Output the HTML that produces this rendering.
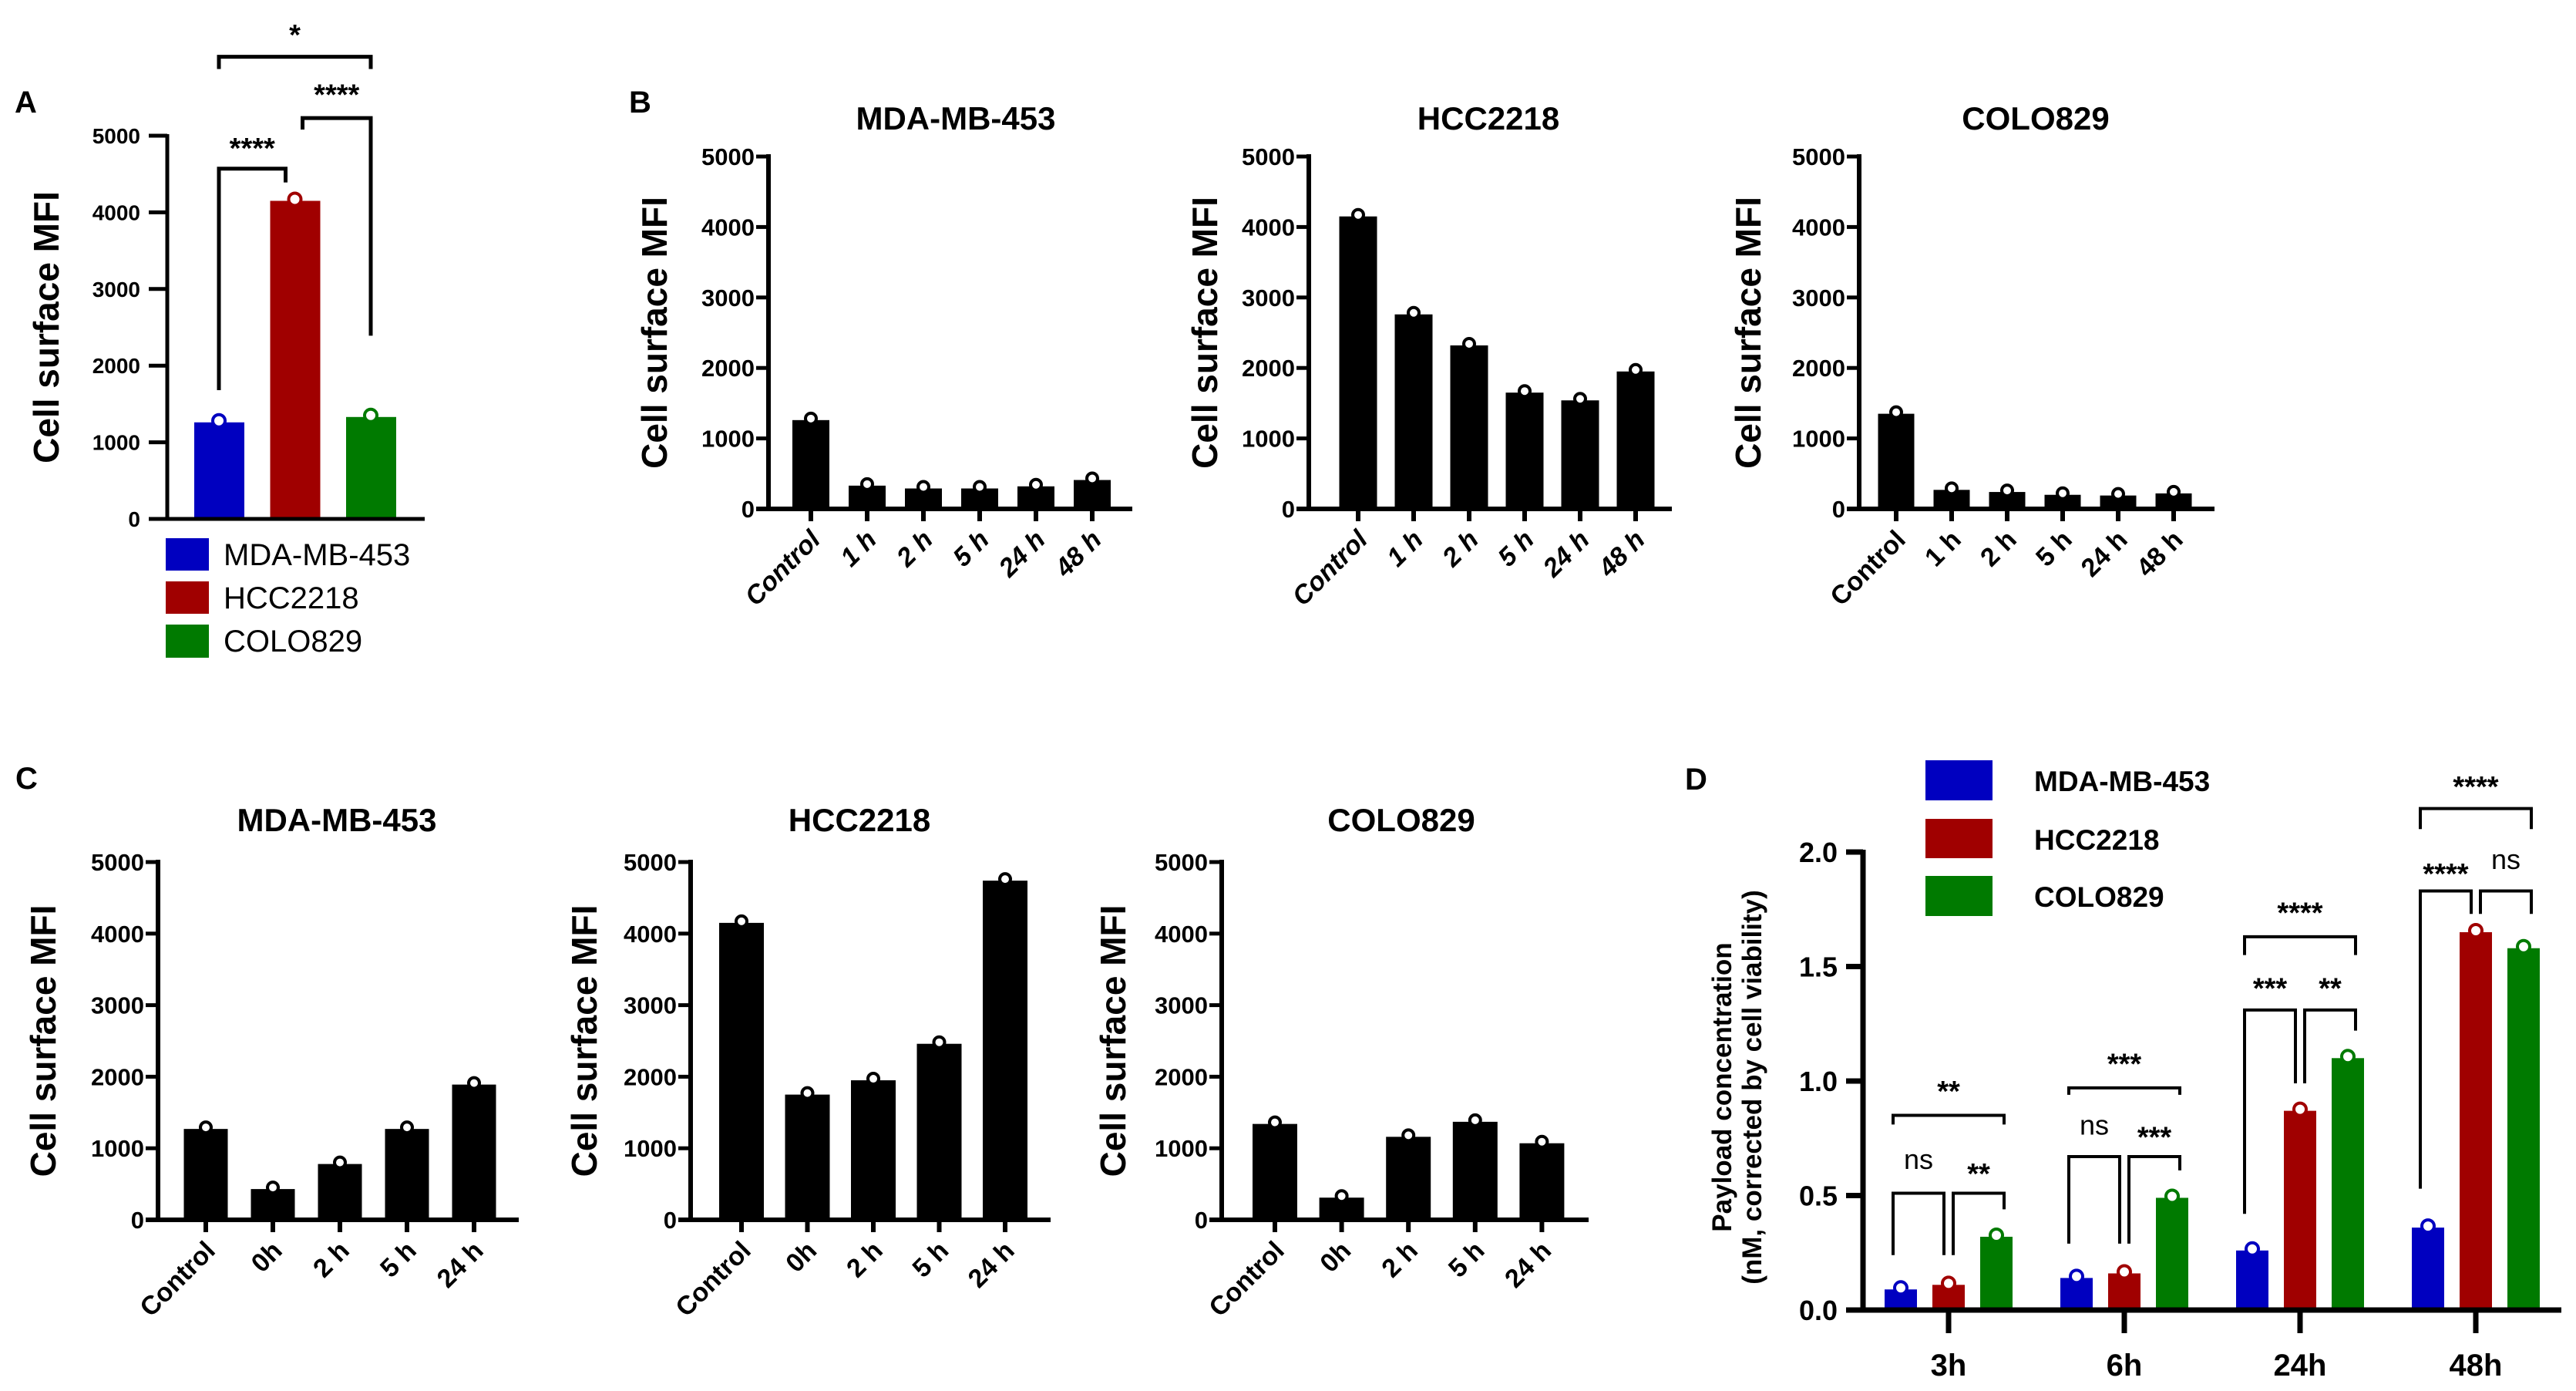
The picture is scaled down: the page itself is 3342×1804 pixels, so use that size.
<!DOCTYPE html>
<html><head><meta charset="utf-8"><style>
html,body{margin:0;padding:0;background:#fff;}
svg{display:block;font-family:"Liberation Sans",sans-serif;}
.nar{font-family:"Liberation Sans Narrow","Liberation Sans",sans-serif;font-weight:bold;}
.b{font-weight:bold;}
</style></head><body>
<svg id="fig" width="3342" height="1804" viewBox="0 0 3342 1804" xmlns="http://www.w3.org/2000/svg">
<text x="19" y="146" font-size="40" class="b">A</text>
<text x="816" y="146" font-size="40" class="b">B</text>
<text x="20" y="1023" font-size="40" class="b">C</text>
<text x="2186" y="1024" font-size="40" class="b">D</text>
<g>
<rect x="215" y="698" width="56" height="42" fill="#0000c0"/>
<text x="290" y="733" font-size="40">MDA-MB-453</text>
<rect x="215" y="754" width="56" height="42" fill="#a00000"/>
<text x="290" y="789" font-size="40">HCC2218</text>
<rect x="215" y="810" width="56" height="43" fill="#007a00"/>
<text x="290" y="845" font-size="40">COLO829</text>
</g>
<g>
<rect x="2498" y="986" width="87" height="52" fill="#0000c0"/>
<text x="2639" y="1026" font-size="37" class="nar">MDA-MB-453</text>
<rect x="2498" y="1062" width="87" height="51" fill="#a00000"/>
<text x="2639" y="1102" font-size="37" class="nar">HCC2218</text>
<rect x="2498" y="1136" width="87" height="52" fill="#007a00"/>
<text x="2639" y="1176" font-size="37" class="nar">COLO829</text>
</g>
</svg>
<script>
// ---- Panel A data ----
const aCategories = ["MDA-MB-453", "HCC2218", "COLO829"];
const aValues = [1260, 4150, 1330];
const aTicks = [0, 1000, 2000, 3000, 4000, 5000];
// brackets: [barA, barB, top, dropA, dropB, label, labelY]
const aBrackets = [[0, 1, 4570, 1680, 4390, "****", 4890], [1, 2, 5230, 5080, 2390, "****", 5590], [0, 2, 6030, 5870, 5870, "*", 6370]];
// ---- Panel B data ----
const bCategories = ["Control", "1 h", "2 h", "5 h", "24 h", "48 h"];
const bTitles = ["MDA-MB-453", "HCC2218", "COLO829"];
const bMDA = [1260, 330, 290, 290, 320, 410];
const bHCC = [4150, 2760, 2320, 1650, 1540, 1950];
const bCOLO = [1350, 270, 240, 200, 190, 220];
const mfiTicks = [0, 1000, 2000, 3000, 4000, 5000];
// ---- Panel C data ----
const cCategories = ["Control", "0h", "2 h", "5 h", "24 h"];
const cMDA = [1270, 430, 780, 1270, 1890];
const cHCC = [4150, 1750, 1950, 2460, 4740];
const cCOLO = [1340, 310, 1160, 1370, 1070];
// ---- Panel D data ----
const dGroups = ["3h", "6h", "24h", "48h"];
const dMDA = [0.09, 0.14, 0.26, 0.36];
const dHCC = [0.11, 0.16, 0.87, 1.65];
const dCOLO = [0.32, 0.49, 1.10, 1.58];
const dTicks = ["0.0", "0.5", "1.0", "1.5", "2.0"];
// brackets: [group, barA, barB, top, dropA, dropB, label, labelY]
const dBrackets = [
  [0, 0, 2, 0.85, 0.81, 0.81, "**", 0.98],
  [0, 0, 1, 0.51, 0.24, 0.24, "ns", 0.65],
  [0, 1, 2, 0.51, 0.24, 0.44, "**", 0.62],
  [1, 0, 2, 0.97, 0.94, 0.94, "***", 1.10],
  [1, 0, 1, 0.67, 0.29, 0.29, "ns", 0.80],
  [1, 1, 2, 0.67, 0.29, 0.61, "***", 0.78],
  [2, 0, 2, 1.63, 1.55, 1.55, "****", 1.76],
  [2, 0, 1, 1.31, 0.42, 0.99, "***", 1.43],
  [2, 1, 2, 1.31, 0.99, 1.22, "**", 1.43],
  [3, 0, 2, 2.19, 2.10, 2.10, "****", 2.31],
  [3, 0, 1, 1.83, 0.53, 1.73, "****", 1.93],
  [3, 1, 2, 1.83, 1.73, 1.73, "ns", 1.96]
];

const svg = document.getElementById('fig');
const NS = 'http://www.w3.org/2000/svg';
function mk(tag, attrs, parent) {
  const e = document.createElementNS(NS, tag);
  for (const k in attrs) e.setAttribute(k, attrs[k]);
  (parent || svg).appendChild(e);
  return e;
}
const COLORS = ["#0000c0", "#a00000", "#007a00"];

function mfiPanel(cfg, cats, vals, title, id) {
  const g = mk('g', {});
  
  
  const y = v => cfg.y0 - (v / 5000) * (cfg.y0 - cfg.y5);
  const x = i => cfg.first + i * cfg.step;
  const t = mk('text', {x: cfg.titleX, y: cfg.titleY, 'font-size': 42, 'text-anchor': 'middle', class: 'nar'}, g);
  t.textContent = title;
  
  
  const yt = mk('text', {x: 0, y: 0, 'font-size': 46, 'text-anchor': 'middle', class: 'b', transform: `translate(${cfg.ytX + 16},${(cfg.y0 + cfg.y5) / 2}) rotate(-90)`}, g);
  yt.textContent = 'Cell surface MFI';
  
  
  vals.forEach((v, i) => {
    const r = mk('rect', {x: x(i) - cfg.bw / 2, y: y(v), width: cfg.bw, height: cfg.y0 - y(v), fill: '#000'}, g);
    
    
    const c = mk('circle', {cx: x(i), cy: y(v) - 2, r: 7, fill: '#fff', stroke: '#000', 'stroke-width': 4}, g);
    
    
    const tk = mk('line', {x1: x(i), x2: x(i), y1: cfg.y0, y2: cfg.y0 + 16, stroke: '#000', 'stroke-width': 6}, g);
    
    
    const lb = mk('text', {x: 0, y: 0, 'font-size': 34, 'text-anchor': 'end', class: 'b', 'font-style': cfg.italic ? 'italic' : 'normal', transform: `translate(${x(i) + 14},${cfg.y0 + 42}) rotate(-45)`}, g);
    lb.textContent = cats[i];
    
    
  });
  const ya = mk('line', {x1: cfg.ax, x2: cfg.ax, y1: cfg.y5 - 3, y2: cfg.y0 + 3, stroke: '#000', 'stroke-width': 6}, g);
  
  
  const xa = mk('line', {x1: cfg.ax - 16, x2: cfg.xend, y1: cfg.y0, y2: cfg.y0, stroke: '#000', 'stroke-width': 6}, g);
  
  
  mfiTicks.forEach(tv => {
    const l = mk('line', {x1: cfg.ax - 16, x2: cfg.ax, y1: y(tv), y2: y(tv), stroke: '#000', 'stroke-width': 5}, g);
    
    
    const tl = mk('text', {x: cfg.ax - 18, y: y(tv) + 11, 'font-size': 31, 'text-anchor': 'end', class: 'nar'}, g);
    tl.textContent = tv;
    
    
  });
}

const bY0 = 660, bY5 = 203;
mfiPanel({ax: 997, xend: 1469, y0: bY0, y5: bY5, first: 1052, step: 73, bw: 48, titleX: 1240, titleY: 168, ytX: 849, italic: true}, bCategories, bMDA, bTitles[0], 'panel-b-mda');
mfiPanel({ax: 1698, xend: 2169, y0: bY0, y5: bY5, first: 1762, step: 72, bw: 49, titleX: 1931, titleY: 168, ytX: 1563, italic: true}, bCategories, bHCC, bTitles[1], 'panel-b-hcc');
mfiPanel({ax: 2412, xend: 2873, y0: bY0, y5: bY5, first: 2460, step: 72, bw: 47, titleX: 2641, titleY: 168, ytX: 2268, italic: false}, bCategories, bCOLO, bTitles[2], 'panel-b-colo');
const cY0 = 1582, cY5 = 1118;
mfiPanel({ax: 205, xend: 673, y0: cY0, y5: cY5, first: 267, step: 87, bw: 57, titleX: 437, titleY: 1078, ytX: 56, italic: false}, cCategories, cMDA, bTitles[0], 'panel-c-mda');
mfiPanel({ax: 896, xend: 1363, y0: cY0, y5: cY5, first: 962, step: 85.5, bw: 58, titleX: 1115, titleY: 1078, ytX: 758, italic: false}, cCategories, cHCC, bTitles[1], 'panel-c-hcc');
mfiPanel({ax: 1585, xend: 2061, y0: cY0, y5: cY5, first: 1654, step: 86.6, bw: 58, titleX: 1818, titleY: 1078, ytX: 1444, italic: false}, cCategories, cCOLO, bTitles[2], 'panel-c-colo');

// ---- Panel A ----
(function () {
  const g = mk('g', {});
  
  
  const ax = 217, y0 = 673, y5 = 176;
  const y = v => y0 - (v / 5000) * (y0 - y5);
  const x = i => 284 + i * 98.5;
  const yt = mk('text', {x: 0, y: 0, 'font-size': 46, 'text-anchor': 'middle', class: 'b', transform: `translate(76,${(y0 + y5) / 2}) rotate(-90)`}, g);
  yt.textContent = 'Cell surface MFI';
  
  
  aValues.forEach((v, i) => {
    const r = mk('rect', {x: x(i) - 32, y: y(v), width: 65, height: y0 - y(v), fill: COLORS[i]}, g);
    
    
    const c = mk('circle', {cx: x(i), cy: y(v) - 2, r: 8, fill: '#fff', stroke: COLORS[i], 'stroke-width': 4}, g);
    
    
  });
  const ya = mk('line', {x1: ax, x2: ax, y1: y5 - 2, y2: y0 + 2, stroke: '#000', 'stroke-width': 5}, g);
  
  
  const xa = mk('line', {x1: 193, x2: 551, y1: y0, y2: y0, stroke: '#000', 'stroke-width': 5}, g);
  
  
  aTicks.forEach(tv => {
    const l = mk('line', {x1: 193, x2: ax, y1: y(tv), y2: y(tv), stroke: '#000', 'stroke-width': 5}, g);
    
    
    const tl = mk('text', {x: 182, y: y(tv) + 10, 'font-size': 28, 'text-anchor': 'end', class: 'nar'}, g);
    tl.textContent = tv;
    
    
  });
  aBrackets.forEach(bk => {
    const xa1 = x(bk[0]) + (bk[0] === 1 ? 10 : 0);
    const xb1 = x(bk[1]) - (bk[1] === 1 ? 12 : 0);
    const p = mk('path', {d: `M${xa1},${y(bk[3])} L${xa1},${y(bk[2])} L${xb1},${y(bk[2])} L${xb1},${y(bk[4])}`, fill: 'none', stroke: '#000', 'stroke-width': 5}, g);
    
    
    const t = mk('text', {x: (xa1 + xb1) / 2, y: y(bk[6]) + 18, 'font-size': 38, 'text-anchor': 'middle', class: 'b'}, g);
    t.textContent = bk[5];
    
    
  });
})();

// ---- Panel D ----
(function () {
  const g = mk('g', {});
  
  
  const ax = 2417, y0 = 1699, y2 = 1105;
  const y = v => y0 - (v / 2) * (y0 - y2);
  const gx = i => 2528 + i * 228;
  const bx = (gi, s) => gx(gi) + (s - 1) * 62;
  const series = [dMDA, dHCC, dCOLO];
  const yt = mk('text', {x: 0, y: 0, 'font-size': 35, 'text-anchor': 'middle', class: 'b', transform: `translate(2246,1410) rotate(-90)`}, g);
  yt.textContent = 'Payload concentration';
  
  
  const yt2 = mk('text', {x: 0, y: 0, 'font-size': 35, 'text-anchor': 'middle', class: 'b', transform: `translate(2285,1410) rotate(-90)`}, g);
  yt2.textContent = '(nM, corrected by cell viability)';
  
  
  series.forEach((arr, s) => {
    arr.forEach((v, i) => {
      const r = mk('rect', {x: bx(i, s) - 21, y: y(v), width: 42, height: y0 - y(v), fill: COLORS[s]}, g);
      
      
      const c = mk('circle', {cx: bx(i, s), cy: y(v) - 2, r: 8, fill: '#fff', stroke: COLORS[s], 'stroke-width': 4}, g);
      
      
    });
  });
  const ya = mk('line', {x1: ax, x2: ax, y1: y2 - 3, y2: y0 + 3, stroke: '#000', 'stroke-width': 7}, g);
  
  
  const xa = mk('line', {x1: 2395, x2: 3323, y1: y0, y2: y0, stroke: '#000', 'stroke-width': 7}, g);
  
  
  dTicks.forEach(tv => {
    const v = parseFloat(tv);
    const l = mk('line', {x1: 2395, x2: ax, y1: y(v), y2: y(v), stroke: '#000', 'stroke-width': 7}, g);
    
    
    const tl = mk('text', {x: 2384, y: y(v) + 13, 'font-size': 36, 'text-anchor': 'end', class: 'nar'}, g);
    tl.textContent = tv;
    
    
  });
  dGroups.forEach((lbl, i) => {
    const l = mk('line', {x1: gx(i), x2: gx(i), y1: y0, y2: y0 + 30, stroke: '#000', 'stroke-width': 7}, g);
    
    
    const tl = mk('text', {x: gx(i), y: 1784, 'font-size': 40, 'text-anchor': 'middle', class: 'nar'}, g);
    tl.textContent = lbl;
    
    
  });
  dBrackets.forEach(bk => {
    let xa1 = bx(bk[0], bk[1]) - 10, xb1 = bx(bk[0], bk[2]) + 10;
    if (bk[1] === 1) xa1 = bx(bk[0], 1) + 6;
    if (bk[2] === 1) xb1 = bx(bk[0], 1) - 6;
    const p = mk('path', {d: `M${xa1},${y(bk[4])} L${xa1},${y(bk[3])} L${xb1},${y(bk[3])} L${xb1},${y(bk[5])}`, fill: 'none', stroke: '#000', 'stroke-width': 4}, g);
    
    
    const isNs = bk[6] === 'ns';
    const t = mk('text', {x: (xa1 + xb1) / 2, y: y(bk[7]) + (isNs ? 10 : 20), 'font-size': isNs ? 36 : 38, 'text-anchor': 'middle', class: isNs ? '' : 'b'}, g);
    t.textContent = bk[6];
    
    
  });
})();
</script>
</body></html>
